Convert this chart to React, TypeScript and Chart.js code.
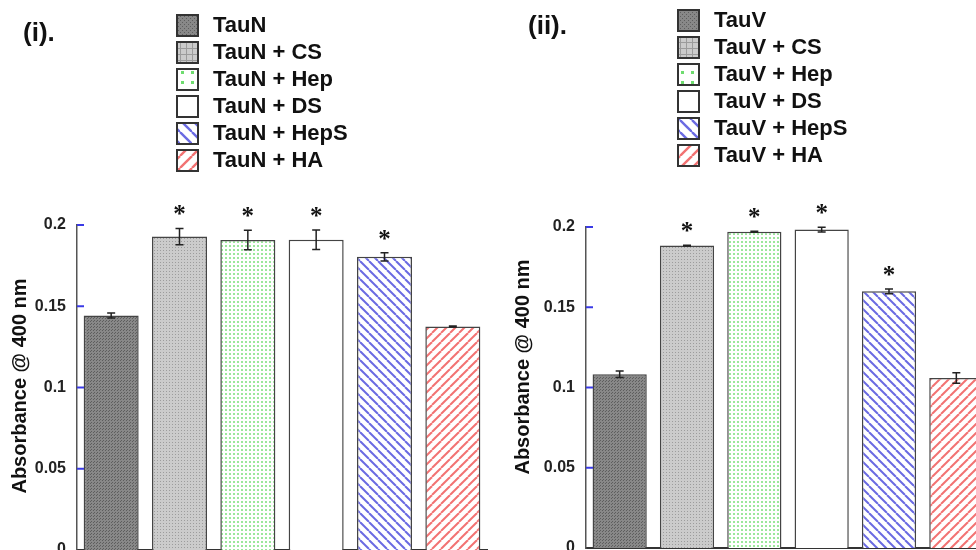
import React, { useEffect, useRef } from 'react';
import { Chart, registerables } from 'chart.js';
Chart.register(...registerables);

// ---------- data ----------
const categoriesN = ['TauN', 'TauN + CS', 'TauN + Hep', 'TauN + DS', 'TauN + HepS', 'TauN + HA'];
const valuesN = [0.1443, 0.1929, 0.1908, 0.191, 0.1804, 0.1376];
const errorsN = [0.0015, 0.005, 0.006, 0.006, 0.0025, 0.0003];
const signifN = [false, true, true, true, true, false];

const categoriesV = ['TauV', 'TauV + CS', 'TauV + Hep', 'TauV + DS', 'TauV + HepS', 'TauV + HA'];
const valuesV = [0.1083, 0.1884, 0.197, 0.1984, 0.1599, 0.1059];
const errorsV = [0.002, 0.0003, 0.0003, 0.0015, 0.0015, 0.0033];
const signifV = [false, true, true, true, true, false];

const yTicks = [0, 0.05, 0.1, 0.15, 0.2];
const yTickLabels = ['0', '0.05', '0.1', '0.15', '0.2'];
const yTitle = 'Absorbance @ 400 nm';
const patternKinds = ['dark', 'light', 'green', 'white', 'blue', 'red'];

// ---------- patterns ----------
function makePattern(kind: string, big: boolean): CanvasPattern | string {
  if (kind === 'white') return '#ffffff';
  const c = document.createElement('canvas');
  const ctx = c.getContext('2d')!;
  if (kind === 'dark') {
    const t = big ? 4 : 3;
    c.width = c.height = t;
    ctx.fillStyle = '#888888';
    ctx.fillRect(0, 0, t, t);
    ctx.fillStyle = '#5e5e5e';
    ctx.fillRect(0, 0, 1, 1);
    ctx.fillRect(big ? 2 : 1, 2, 1, 1);
  } else if (kind === 'light') {
    const t = big ? 6 : 3;
    c.width = c.height = t;
    ctx.fillStyle = '#cbcbcb';
    ctx.fillRect(0, 0, t, t);
    ctx.fillStyle = '#9c9c9c';
    if (big) {
      ctx.fillRect(0, 0, 6, 1);
      ctx.fillRect(0, 0, 1, 6);
    } else {
      ctx.fillRect(1, 1, 1, 1);
    }
  } else if (kind === 'green') {
    const t = big ? 10 : 4;
    c.width = c.height = t;
    ctx.fillStyle = '#ffffff';
    ctx.fillRect(0, 0, t, t);
    ctx.fillStyle = big ? '#6fdc6f' : '#9be79b';
    const d = big ? 3 : 2;
    ctx.fillRect(1, 1, d, d);
  } else {
    const t = big ? 12 : 9;
    c.width = c.height = t;
    ctx.fillStyle = '#ffffff';
    ctx.fillRect(0, 0, t, t);
    ctx.strokeStyle = kind === 'blue' ? '#6a6ae2' : '#f27272';
    ctx.lineWidth = big ? 2.4 : 2;
    for (let k = -1; k <= 1; k++) {
      ctx.beginPath();
      if (kind === 'blue') {
        ctx.moveTo(k * t, 0);
        ctx.lineTo(k * t + t, t);
      } else {
        ctx.moveTo(k * t, t);
        ctx.lineTo(k * t + t, 0);
      }
      ctx.stroke();
    }
  }
  const dummy = document.createElement('canvas').getContext('2d')!;
  return dummy.createPattern(c, 'repeat')!;
}

type PanelProps = {
  panelLabel: string;
  categories: string[];
  values: number[];
  errors: number[];
  signif: boolean[];
  left: number;
  width: number;
  height: number;
  padTop: number;
  padRight: number;
  padBottom: number;
  axisWidth: number;
  labelX: number;
  labelY: number;
  legendX: number;
  legendY: number;
  titleX: number;
  titleY: number;
};

function Panel(p: PanelProps) {
  const ref = useRef<HTMLCanvasElement | null>(null);
  useEffect(() => {
    const canvas = ref.current;
    if (!canvas) return;
    const barPatterns = patternKinds.map((k) => makePattern(k, false));
    const legendPatterns = patternKinds.map((k) => makePattern(k, true));

    const decor = {
      id: 'decor',
      afterDatasetsDraw(chart: any) {
        const ctx = chart.ctx;
        const yScale = chart.scales.y;
        const meta = chart.getDatasetMeta(0);
        ctx.save();
        // error bars
        p.values.forEach((v, i) => {
          const bar = meta.data[i];
          const x = bar.x;
          const yt = yScale.getPixelForValue(v + p.errors[i]);
          const yb = yScale.getPixelForValue(v - p.errors[i]);
          ctx.strokeStyle = '#222';
          ctx.lineWidth = 1.5;
          ctx.beginPath();
          ctx.moveTo(x, yt);
          ctx.lineTo(x, yb);
          ctx.moveTo(x - 4, yt);
          ctx.lineTo(x + 4, yt);
          ctx.moveTo(x - 4, yb);
          ctx.lineTo(x + 4, yb);
          ctx.stroke();
          if (p.signif[i]) {
            ctx.fillStyle = '#111';
            ctx.font = 'bold 25px "Liberation Serif", serif';
            ctx.textAlign = 'center';
            ctx.textBaseline = 'alphabetic';
            ctx.fillText('*', x, yt - 18 + 12);
          }
        });
        // inward ticks
        ctx.strokeStyle = '#3a3ae6';
        ctx.lineWidth = 2;
        const lx = chart.chartArea.left;
        yTicks.forEach((t) => {
          const y = yScale.getPixelForValue(t);
          if (t === 0) return;
          ctx.beginPath();
          ctx.moveTo(lx, y);
          ctx.lineTo(lx + 7, y);
          ctx.stroke();
        });
        // y title
        ctx.save();
        ctx.translate(p.titleX, p.titleY);
        ctx.rotate(-Math.PI / 2);
        ctx.fillStyle = '#111';
        ctx.font = 'bold 20px "Liberation Sans", Arial, sans-serif';
        ctx.textAlign = 'center';
        ctx.textBaseline = 'middle';
        ctx.fillText(yTitle, 0, 0);
        ctx.restore();
        // panel label
        ctx.fillStyle = '#111';
        ctx.font = 'bold 26px "Liberation Sans", Arial, sans-serif';
        ctx.textAlign = 'left';
        ctx.textBaseline = 'middle';
        ctx.fillText(p.panelLabel, p.labelX, p.labelY);
        // legend
        p.categories.forEach((c, i) => {
          const sy = p.legendY + i * 27;
          ctx.fillStyle = legendPatterns[i];
          ctx.fillRect(p.legendX, sy, 21, 21);
          ctx.strokeStyle = '#333';
          ctx.lineWidth = 2;
          ctx.strokeRect(p.legendX, sy, 21, 21);
          ctx.fillStyle = '#111';
          ctx.font = 'bold 22px "Liberation Sans", Arial, sans-serif';
          ctx.textAlign = 'left';
          ctx.textBaseline = 'middle';
          ctx.fillText(c, p.legendX + 36, sy + 11);
        });
        ctx.restore();
      },
    };

    const chart = new Chart(canvas, {
      type: 'bar',
      data: {
        labels: p.categories,
        datasets: [
          {
            data: p.values,
            backgroundColor: barPatterns as any,
            borderColor: '#444',
            borderWidth: 1.5,
            barPercentage: 0.805,
            categoryPercentage: 1,
          },
        ],
      },
      options: {
        responsive: false,
        maintainAspectRatio: false,
        animation: false,
        layout: { padding: { top: p.padTop, right: p.padRight, bottom: p.padBottom, left: 0 } },
        plugins: { legend: { display: false }, tooltip: { enabled: false } },
        scales: {
          x: {
            grid: { display: false, drawTicks: false },
            ticks: { display: false },
            border: { display: true, color: '#333', width: 2 },
            afterFit: (s: any) => {
              s.height = 0;
            },
          },
          y: {
            min: 0,
            max: 0.2,
            afterBuildTicks: (s: any) => {
              s.ticks = yTicks.map((v) => ({ value: v }));
            },
            ticks: {
              callback: (v: any) => yTickLabels[yTicks.findIndex((t) => Math.abs(t - Number(v)) < 1e-9)],
              font: { family: '"Liberation Sans", Arial, sans-serif', size: 16, weight: 'bold' },
              color: '#222',
              padding: 11,
            },
            grid: { display: false, drawTicks: false },
            border: { display: true, color: '#555', width: 1.5 },
            afterFit: (s: any) => {
              s.width = p.axisWidth;
            },
          },
        },
      },
      plugins: [decor],
    });
    return () => chart.destroy();
  }, []);

  return (
    <canvas
      ref={ref}
      width={p.width}
      height={p.height}
      style={{ position: 'absolute', left: p.left, top: 0, width: p.width, height: p.height }}
    />
  );
}

export default function App() {
  return (
    <div
      style={{
        position: 'fixed',
        left: 0,
        top: 0,
        width: 976,
        height: 550,
        overflow: 'hidden',
        background: '#fff',
      }}
    >
      <Panel
        panelLabel="(i)."
        categories={categoriesN}
        values={valuesN}
        errors={errorsN}
        signif={signifN}
        left={0}
        width={500}
        height={600}
        padTop={225}
        padRight={13}
        padBottom={50}
        axisWidth={77}
        labelX={23}
        labelY={34}
        legendX={177}
        legendY={15}
        titleX={20}
        titleY={386}
      />
      <Panel
        panelLabel="(ii)."
        categories={categoriesV}
        values={valuesV}
        errors={errorsV}
        signif={signifV}
        left={500}
        width={520}
        height={600}
        padTop={227}
        padRight={30}
        padBottom={52}
        axisWidth={86}
        labelX={28}
        labelY={27}
        legendX={178}
        legendY={10}
        titleX={23}
        titleY={367}
      />
    </div>
  );
}
